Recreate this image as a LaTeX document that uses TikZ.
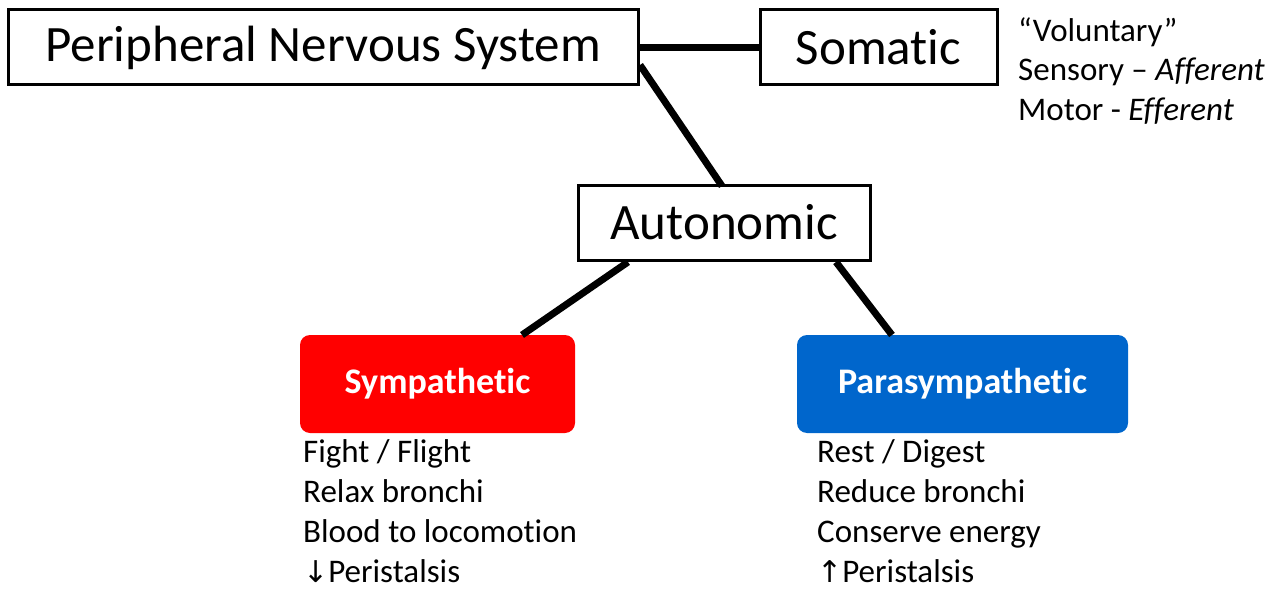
\documentclass[tikz,border=0pt]{standalone}
\usepackage{fontspec}
\setmainfont{Carlito}[Ligatures=NoCommon]
\newfontfamily\dv{DejaVu Sans}
\definecolor{pblue}{RGB}{0,102,204}
\begin{document}
\begin{tikzpicture}[x=1pt,y=-1pt,
  box/.style={draw,line width=3pt,minimum height=75pt,inner sep=0pt,font=\fontsize{51}{54}\selectfont},
  rbox/.style={rounded corners=10pt,minimum height=98pt,text=white,font=\fontsize{36}{40}\selectfont\bfseries},
  conn/.style={line width=7pt},
  lst/.style={align=left,anchor=north west,font=\fontsize{33}{40}\selectfont,inner sep=0pt}]
\useasboundingbox (0,0) rectangle (1278,594);
\node[box,minimum width=630pt] (pns) at (323,47.5) {Peripheral Nervous System};
\node[box,minimum width=237pt] (som) at (878.5,47.5) {Somatic};
\node[box,minimum width=292pt] (aut) at (724,222.5) {Autonomic};
\node[rbox,fill=red,minimum width=275pt] (sym) at (437.5,384) {Sympathetic};
\node[rbox,fill=pblue,minimum width=331pt] (para) at (962.5,384) {Parasympathetic};
\draw[conn] (pns.east) -- (som.west);
\coordinate (a1) at (640,65);
\coordinate (a2) at (722,186);
\draw[conn] (a1) -- (a2);
\coordinate (b1) at (628,262);
\coordinate (b2) at (522,335);
\draw[conn] (b1) -- (b2);
\coordinate (c1) at (836,262);
\coordinate (c2) at (892,335);
\draw[conn] (c1) -- (c2);
\node[lst] (st) at (1018,17) {“Voluntary”\\Sensory – \textit{Afferent}\\Motor - \textit{Efferent}};
\node[lst] (sl) at (303,439) {Fight / Flight\\Relax bronchi\\Blood to locomotion\\{\dv\fontsize{30}{40}\selectfont↓}Peristalsis};
\node[lst] (pl) at (817,439) {Rest / Digest\\Reduce bronchi\\Conserve energy\\{\dv\fontsize{30}{40}\selectfont↑}Peristalsis};
\end{tikzpicture}
\end{document}
